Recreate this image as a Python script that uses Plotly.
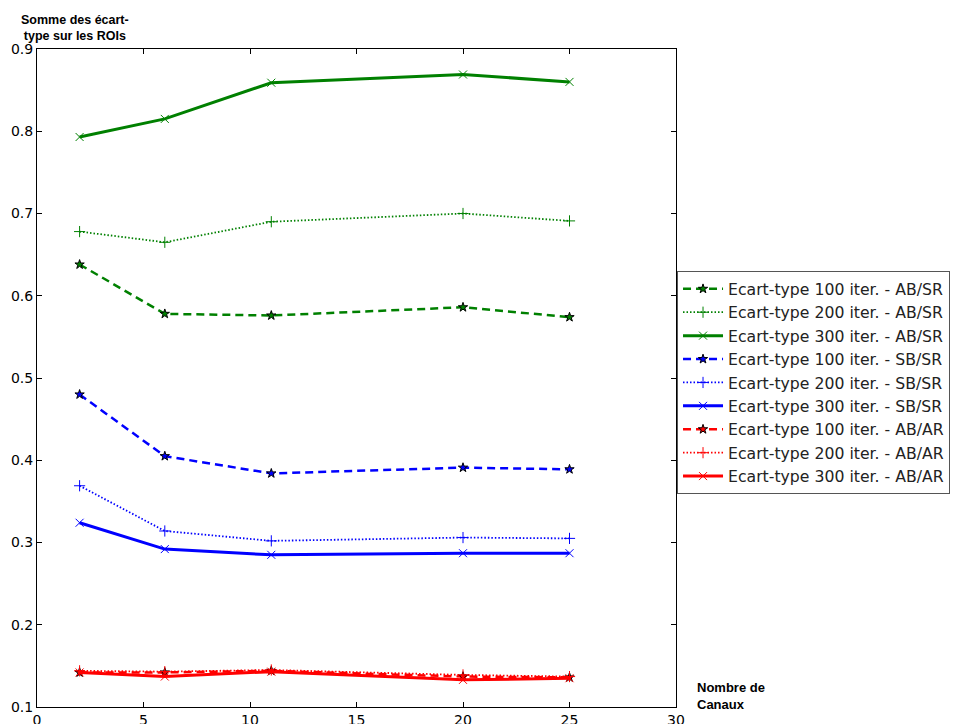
import plotly.graph_objects as go

canaux = [2, 6, 11, 20, 25]

ab_sr_100 = [0.638, 0.578, 0.576, 0.586, 0.574]
ab_sr_200 = [0.678, 0.665, 0.690, 0.700, 0.691]
ab_sr_300 = [0.793, 0.815, 0.859, 0.869, 0.860]
sb_sr_100 = [0.480, 0.405, 0.384, 0.391, 0.389]
sb_sr_200 = [0.369, 0.314, 0.302, 0.306, 0.305]
sb_sr_300 = [0.324, 0.292, 0.285, 0.287, 0.287]
ab_ar_100 = [0.142, 0.142, 0.144, 0.137, 0.136]
ab_ar_200 = [0.144, 0.143, 0.145, 0.139, 0.137]
ab_ar_300 = [0.142, 0.137, 0.143, 0.133, 0.135]

series = [
    ("Ecart-type 100 iter. - AB/SR", ab_sr_100, "#008000", "100"),
    ("Ecart-type 200 iter. - AB/SR", ab_sr_200, "#008000", "200"),
    ("Ecart-type 300 iter. - AB/SR", ab_sr_300, "#008000", "300"),
    ("Ecart-type 100 iter. - SB/SR", sb_sr_100, "#0000FF", "100"),
    ("Ecart-type 200 iter. - SB/SR", sb_sr_200, "#0000FF", "200"),
    ("Ecart-type 300 iter. - SB/SR", sb_sr_300, "#0000FF", "300"),
    ("Ecart-type 100 iter. - AB/AR", ab_ar_100, "#FF0000", "100"),
    ("Ecart-type 200 iter. - AB/AR", ab_ar_200, "#FF0000", "200"),
    ("Ecart-type 300 iter. - AB/AR", ab_ar_300, "#FF0000", "300"),
]

fig = go.Figure()
for name, vals, col, it in series:
    if it == "100":
        line = dict(color=col, width=2.5, dash="8px,5px")
        marker = dict(symbol="star", size=7, color=col, line=dict(color="black", width=1))
    elif it == "200":
        line = dict(color=col, width=1.8, dash="1.5px,2px")
        marker = dict(symbol="cross-thin", size=8, color=col, line=dict(color=col, width=1))
    else:
        line = dict(color=col, width=3)
        marker = dict(symbol="x-thin", size=8, color=col, line=dict(color=col, width=1))
    fig.add_trace(go.Scatter(x=canaux, y=vals, mode="lines+markers", name=name,
                             line=line, marker=marker))

axis_common = dict(showline=True, linecolor="black", linewidth=1, mirror="ticks",
                   ticks="inside", ticklen=5, tickcolor="black", showgrid=False,
                   zeroline=False, automargin=False,
                   tickfont=dict(family="DejaVu Sans", size=14, color="black"))

fig.update_layout(
    width=960, height=724,
    margin=dict(l=29, r=292, t=41, b=25, autoexpand=False),
    paper_bgcolor="white", plot_bgcolor="white",
    xaxis=dict(range=[0, 30], tickvals=[0, 5, 10, 15, 20, 25, 30], ticklabelstandoff=0,
               **axis_common),
    yaxis=dict(range=[0.1, 0.9], tickvals=[0.1, 0.2, 0.3, 0.4, 0.5, 0.6, 0.7, 0.8, 0.9],
               tickformat=".1f", **axis_common),
    legend=dict(x=1.0016, xanchor="left", y=0.493, yanchor="middle",
                bordercolor="#555555", borderwidth=1, bgcolor="white",
                font=dict(family="DejaVu Sans", size=15.7, color="#222222"),
                itemwidth=40, tracegroupgap=0),
    showlegend=True,
    annotations=[
        dict(text="<b>Somme des écart-<br>type sur les ROIs</b>", xref="paper", yref="paper",
             x=0.059, y=1.006, xanchor="center", yanchor="bottom", showarrow=False, align="center",
             font=dict(family="Liberation Sans", size=12.5, color="black")),
        dict(text="<b>Nombre de<br>Canaux</b>", xref="paper", yref="paper",
             x=1.0297, y=-0.01, xanchor="left", yanchor="bottom", showarrow=False, align="left",
             font=dict(family="Liberation Sans", size=13, color="black")),
    ],
)

fig.write_html("out.html")
